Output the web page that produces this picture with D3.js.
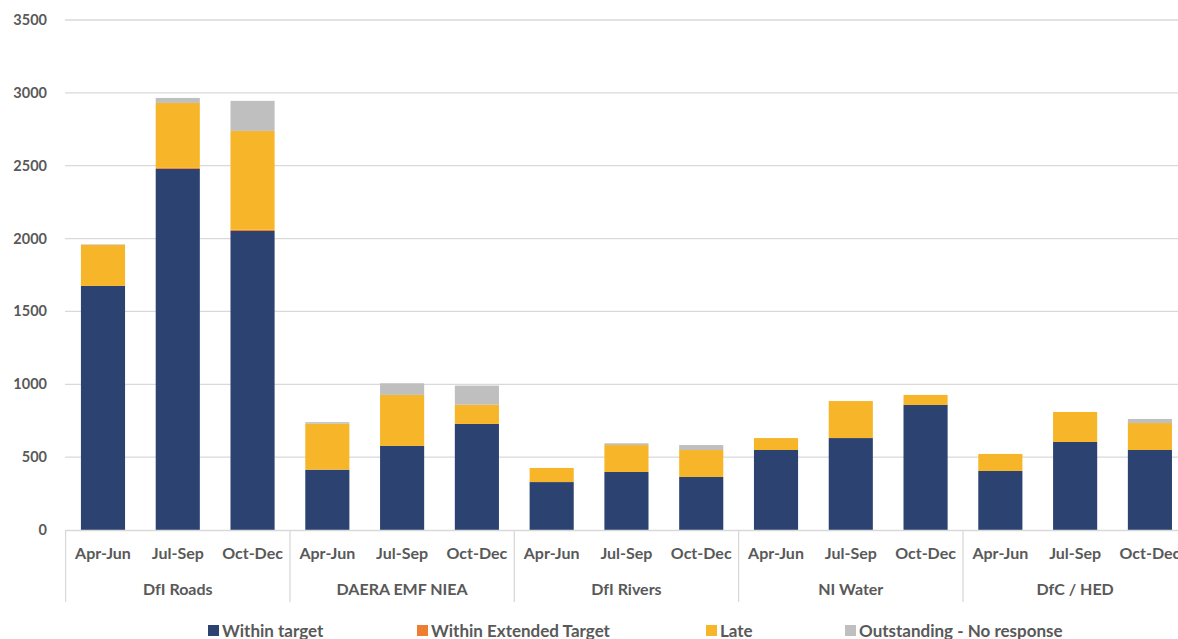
<!DOCTYPE html>
<html><head><meta charset="utf-8">
<script src="https://cdn.jsdelivr.net/npm/d3@7"></script>
<style>
body{margin:0;background:#fff;overflow:hidden}
text{font-family:Lato,"Open Sans",sans-serif;font-weight:bold;fill:#595959}
</style></head><body>
<svg id="c" width="1178" height="639"></svg>
<script>
const groups = ["DfI Roads","DAERA EMF NIEA","DfI Rivers","NI Water","DfC / HED"];
const quarters = ["Apr-Jun","Jul-Sep","Oct-Dec"];
const withinTarget   = [1675,2478,2052, 414,577,728, 329,398,364, 549,631,858, 405,604,549];
const withinExtended = [0,7,8, 0,0,0, 0,0,0, 0,0,0, 0,0,0];
const late           = [281,446,679, 316,350,132, 97,185,185, 82,254,69, 117,206,185];
const outstanding    = [4,34,206, 10,80,131, 0,12,34, 0,0,0, 0,0,28];
const seriesNames = ["Within target","Within Extended Target","Late","Outstanding - No response"];
const seriesColors = ["#2c4372","#ed7d31","#f7b62a","#bfbfbf"];
const yTicks = [0,500,1000,1500,2000,2500,3000,3500];

const svg = d3.select("#c");
const keys = [];
groups.forEach(g => quarters.forEach(q => keys.push(g + "|" + q)));
const rows = keys.map((k,i) => ({key:k, s0:withinTarget[i], s1:withinExtended[i], s2:late[i], s3:outstanding[i]}));

const x = d3.scaleBand().domain(keys).range([65.6, 1187.3]).paddingInner(0.41).paddingOuter(0.205);
const y = d3.scaleLinear().domain([0,3500]).range([530,20]);

svg.append("g").selectAll("line").data(yTicks.slice(1)).join("line")
  .attr("x1",65).attr("x2",1178).attr("y1",d=>y(d)).attr("y2",d=>y(d))
  .attr("stroke","#d9d9d9").attr("stroke-width",1.3);

svg.append("g").selectAll("text").data(yTicks).join("text")
  .attr("x",47).attr("y",d=>y(d)+5).attr("text-anchor","end")
  .style("font-size","14.5px").text(d=>d);

const stack = d3.stack().keys(["s0","s1","s2","s3"])(rows);
svg.append("g").selectAll("g").data(stack).join("g")
  .attr("fill",(d,i)=>seriesColors[i])
  .selectAll("rect").data(d=>d).join("rect")
  .attr("x",d=>x(d.data.key)).attr("width",x.bandwidth())
  .attr("y",d=>y(d[1])).attr("height",d=>Math.max(0,y(d[0])-y(d[1])));

svg.append("line").attr("x1",65).attr("x2",1178).attr("y1",530.5).attr("y2",530.5)
  .attr("stroke","#d9d9d9").attr("stroke-width",1.3);

const step = x.step();
const x0 = x.range()[0];
for (let k=0;k<=groups.length;k++){
  const xx = x0 + k*3*step;
  svg.append("line").attr("x1",xx).attr("x2",xx).attr("y1",530).attr("y2",602)
    .attr("stroke","#d9d9d9").attr("stroke-width",1.3);
}

svg.append("g").selectAll("text").data(rows).join("text")
  .attr("x",d=>x(d.key)+x.bandwidth()/2).attr("y",559).attr("text-anchor","middle")
  .style("font-size","16px").text(d=>d.key.split("|")[1]);

svg.append("g").selectAll("text").data(groups).join("text")
  .attr("x",(d,i)=>x0 + (i*3+1.5)*step).attr("y",595).attr("text-anchor","middle")
  .style("font-size","16px").text(d=>d);

const legX = [208,417,706,845];
const lg = svg.append("g").selectAll("g").data(seriesNames).join("g")
  .attr("transform",(d,i)=>`translate(${legX[i]},625)`);
lg.append("rect").attr("width",11).attr("height",11).attr("fill",(d,i)=>seriesColors[i]);
lg.append("text").attr("x",14).attr("y",11.5).style("font-size","17px").text(d=>d);
</script>
</body></html>
